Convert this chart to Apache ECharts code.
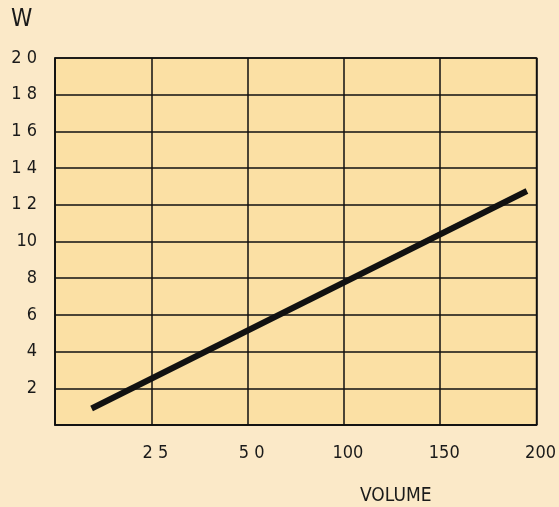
<!DOCTYPE html>
<html>
<head>
<meta charset="utf-8">
<script src="https://cdn.jsdelivr.net/npm/echarts@6/dist/echarts.min.js"></script>
<style>
html,body{margin:0;padding:0;background:#fbe9c8;}
#chart{width:559px;height:507px;}
</style>
</head>
<body>
<div id="chart"></div>
<script>
// x axis positions are evenly spaced slots; labels show the volume at each slot
const xTickLabels = ['', '2 5', '5 0', '100', '150', '200'];
const yTickLabels = {0:'', 2:'2', 4:'4', 6:'6', 8:'8', 10:'10', 12:'1 2', 14:'1 4', 16:'1 6', 18:'1 8', 20:'2 0'};
// line: x in slot units, y in W
const lineX = [0.38, 4.9];
const lineY = [0.9, 12.75];
const yName = 'W';
const xName = 'VOLUME';

const chart = echarts.init(document.getElementById('chart'));
const font = '"DejaVu Sans Condensed", "Liberation Sans Narrow", "DejaVu Sans", sans-serif';
chart.setOption({
  backgroundColor: '#fbe9c8',
  animation: false,
  grid: {left: 55, right: 22, top: 58, bottom: 82, show: true,
         backgroundColor: '#fbe0a4', borderColor: '#111', borderWidth: 1.5},
  xAxis: {
    type: 'value', min: 0, max: 5, interval: 1,
    axisLine: {show: true, lineStyle: {color: '#111', width: 1.5}},
    axisTick: {show: false},
    splitLine: {show: true, lineStyle: {color: '#111', width: 1.5}},
    axisLabel: {color: '#1a1a1a', fontSize: 18, fontFamily: font, margin: 19,
      padding: [0, 0, 0, 8],
      formatter: v => xTickLabels[Math.round(v)] || ''}
  },
  yAxis: {
    type: 'value', min: 0, max: 20, interval: 2,
    axisLine: {show: true, lineStyle: {color: '#111', width: 1.5}},
    axisTick: {show: false},
    splitLine: {show: true, lineStyle: {color: '#111', width: 1.5}},
    axisLabel: {color: '#1a1a1a', fontSize: 18, fontFamily: font, margin: 18,
      formatter: v => yTickLabels[v] !== undefined ? yTickLabels[v] : ''}
  },
  graphic: [
    {type: 'text', left: 11, top: 8, style: {text: yName, fontSize: 24, fontFamily: font, fill: '#1a1a1a'}},
    {type: 'text', left: 360, top: 487, style: {text: xName, fontSize: 19, fontFamily: font, fill: '#1a1a1a'}}
  ],
  series: [{
    type: 'line',
    data: lineX.map((x, i) => [x, lineY[i]]),
    symbol: 'none',
    lineStyle: {color: '#111', width: 6}
  }]
});
</script>
</body>
</html>
